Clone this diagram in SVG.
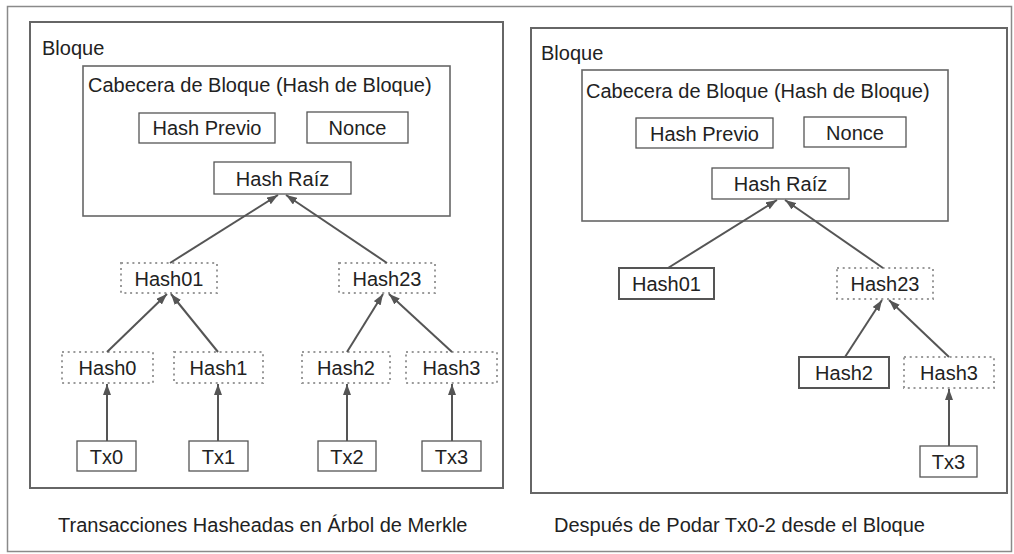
<svg xmlns="http://www.w3.org/2000/svg" width="1014" height="554" viewBox="0 0 1014 554">
<defs>
<marker id="ah" markerUnits="userSpaceOnUse" markerWidth="11" markerHeight="8" refX="11" refY="4" orient="auto">
<path d="M0,0 L11,4 L0,8 z" fill="#555"/>
</marker>
<style>
text{font-family:"Liberation Sans",Arial,sans-serif;font-size:20px;fill:#222}
.c{text-anchor:middle}
.box{fill:#fff;stroke:#555;stroke-width:1.3}
.solid2{fill:#fff;stroke:#555;stroke-width:2}
.dot{fill:#fff;stroke:#9a9a9a;stroke-width:2;stroke-dasharray:2 3.7}
.blk{fill:none;stroke:#666;stroke-width:2}
.hdr{fill:none;stroke:#666;stroke-width:1.6}
.con line{stroke:#555;stroke-width:2;marker-end:url(#ah)}
</style>
</defs>
<rect x="0" y="0" width="1014" height="554" fill="#fff"/>
<rect id="frame" x="7.5" y="6.5" width="1004" height="545" fill="none" stroke="#8a8a8a" stroke-width="1.5"/>

<!-- Left panel -->
<g id="left-block">
<rect class="blk" x="30" y="22" width="473" height="466"/>
<text x="42" y="55">Bloque</text>
</g>
<g id="left-header">
<rect class="hdr" x="83" y="66" width="367" height="150"/>
<text x="88" y="92">Cabecera de Bloque (Hash de Bloque)</text>
</g>
<g id="l-prev"><rect class="box" x="139" y="113" width="136" height="30"/><text class="c" x="207" y="135">Hash Previo</text></g>
<g id="l-nonce"><rect class="box" x="307" y="112" width="101" height="31"/><text class="c" x="357.5" y="135">Nonce</text></g>
<g id="l-root"><rect class="box" x="214" y="162" width="137" height="32"/><text class="c" x="282.5" y="186">Hash Raíz</text></g>
<g id="l-h01"><rect class="dot" x="121" y="263" width="96" height="30"/><text class="c" x="169" y="286">Hash01</text></g>
<g id="l-h23"><rect class="dot" x="339" y="263" width="96" height="30"/><text class="c" x="387" y="286">Hash23</text></g>
<g id="l-h0"><rect class="dot" x="62" y="352" width="91" height="31"/><text class="c" x="107.5" y="375">Hash0</text></g>
<g id="l-h1"><rect class="dot" x="174" y="352" width="89" height="31"/><text class="c" x="218.5" y="375">Hash1</text></g>
<g id="l-h2"><rect class="dot" x="302" y="352" width="88" height="31"/><text class="c" x="346" y="375">Hash2</text></g>
<g id="l-h3"><rect class="dot" x="406" y="352" width="91" height="31"/><text class="c" x="451.5" y="375">Hash3</text></g>
<g id="l-tx0"><rect class="box" x="77" y="441" width="59" height="30"/><text class="c" x="106.5" y="464">Tx0</text></g>
<g id="l-tx1"><rect class="box" x="189" y="441" width="59" height="30"/><text class="c" x="218.5" y="464">Tx1</text></g>
<g id="l-tx2"><rect class="box" x="318" y="441" width="58" height="30"/><text class="c" x="347" y="464">Tx2</text></g>
<g id="l-tx3"><rect class="box" x="422" y="441" width="59" height="30"/><text class="c" x="451.5" y="464">Tx3</text></g>
<text id="l-caption" x="58" y="532">Transacciones Hasheadas en Árbol de Merkle</text>

<!-- Right panel -->
<g id="right-block">
<rect class="blk" x="531" y="28" width="476" height="465"/>
<text x="541" y="60">Bloque</text>
</g>
<g id="right-header">
<rect class="hdr" x="582" y="70" width="366" height="151"/>
<text x="586" y="98">Cabecera de Bloque (Hash de Bloque)</text>
</g>
<g id="r-prev"><rect class="box" x="636" y="118" width="137" height="30"/><text class="c" x="704.5" y="141">Hash Previo</text></g>
<g id="r-nonce"><rect class="box" x="804" y="117" width="102" height="30"/><text class="c" x="855" y="140">Nonce</text></g>
<g id="r-root"><rect class="box" x="712" y="168" width="137" height="31"/><text class="c" x="780.5" y="191">Hash Raíz</text></g>
<g id="r-h01"><rect class="solid2" x="619" y="268" width="95" height="31"/><text class="c" x="666.5" y="291">Hash01</text></g>
<g id="r-h23"><rect class="dot" x="837" y="268" width="96" height="31"/><text class="c" x="885" y="291">Hash23</text></g>
<g id="r-h2"><rect class="solid2" x="799" y="357" width="90" height="31"/><text class="c" x="844" y="380">Hash2</text></g>
<g id="r-h3"><rect class="dot" x="904" y="357" width="90" height="31"/><text class="c" x="949" y="380">Hash3</text></g>
<g id="r-tx3"><rect class="box" x="920" y="446" width="57" height="31"/><text class="c" x="948.5" y="469">Tx3</text></g>
<text id="r-caption" x="554" y="532">Después de Podar Tx0-2 desde el Bloque</text>

<g id="connectors" class="con">
<line x1="170" y1="263" x2="278" y2="195"/>
<line x1="387" y1="263" x2="286" y2="195"/>
<line x1="107" y1="352" x2="167" y2="294"/>
<line x1="218" y1="352" x2="171" y2="294"/>
<line x1="347" y1="352" x2="383" y2="294"/>
<line x1="452" y1="352" x2="389" y2="294"/>
<line x1="107" y1="441" x2="107" y2="384"/>
<line x1="218" y1="441" x2="218" y2="384"/>
<line x1="347" y1="441" x2="347" y2="384"/>
<line x1="452" y1="441" x2="452" y2="384"/>
<line x1="668" y1="268" x2="777" y2="200"/>
<line x1="883" y1="268" x2="785" y2="200"/>
<line x1="845" y1="357" x2="882" y2="300"/>
<line x1="949" y1="357" x2="889" y2="300"/>
<line x1="949" y1="446" x2="949" y2="389"/>
</g>
</svg>
